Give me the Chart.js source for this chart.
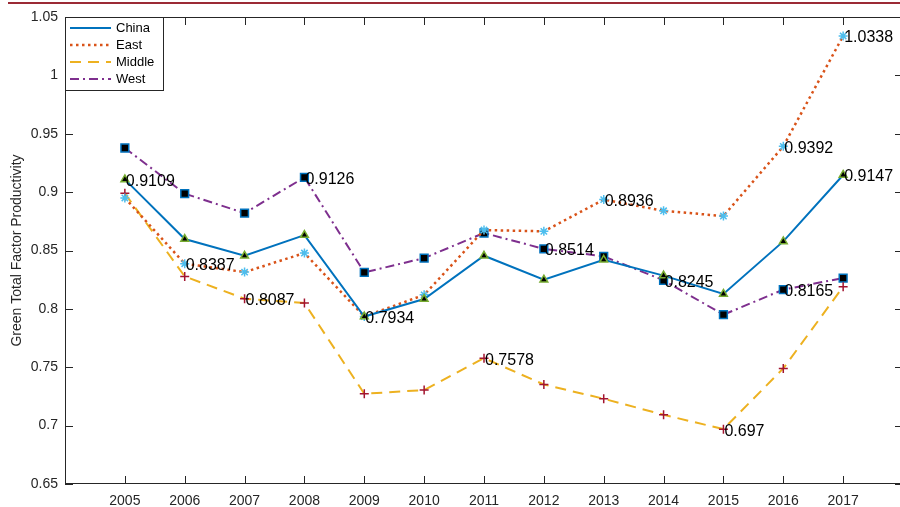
<!DOCTYPE html>
<html>
<head>
<meta charset="utf-8">
<script src="https://cdn.jsdelivr.net/npm/chart.js@4/dist/chart.umd.min.js"></script>
<style>
  html, body { margin: 0; padding: 0; background: #fff; overflow: hidden; }
  #wrap { position: relative; width: 900px; height: 507px; overflow: hidden; }
  #inner { position: absolute; left: 0; top: 0; width: 910px; height: 507px; }
  #topline { position: absolute; left: 8px; right: 0; top: 2px; height: 2px; background: #9b2a35; }
</style>
</head>
<body>
<div id="wrap">
  <div id="inner"><canvas id="tfp" width="910" height="507" style="width:910px;height:507px"></canvas></div>
  <div id="topline"></div>
</div>
<script>
// ── data ────────────────────────────────────────────────────────────────
const YEARS  = [2005, 2006, 2007, 2008, 2009, 2010, 2011, 2012, 2013, 2014, 2015, 2016, 2017];
const CHINA  = [0.9109, 0.8598, 0.8455, 0.8632, 0.7934, 0.8084, 0.8455, 0.8250, 0.8420, 0.8285, 0.8128, 0.8578, 0.9147];
const EAST   = [0.8950, 0.8387, 0.8315, 0.8478, 0.7934, 0.8120, 0.8675, 0.8664, 0.8936, 0.8840, 0.8795, 0.9392, 1.0338];
const MIDDLE = [0.8990, 0.8278, 0.8087, 0.8050, 0.7273, 0.7305, 0.7578, 0.7352, 0.7230, 0.7093, 0.6970, 0.7490, 0.8190];
const WEST   = [0.9378, 0.8987, 0.8820, 0.9126, 0.8312, 0.8435, 0.8650, 0.8514, 0.8450, 0.8245, 0.7950, 0.8165, 0.8264];
const Y_TICKS = [0.65, 0.7, 0.75, 0.8, 0.85, 0.9, 0.95, 1, 1.05];
// annotated points: [dataset index, year index]
const NOTES = [[0, 0], [1, 1], [2, 2], [3, 3], [0, 4], [2, 6], [3, 7], [1, 8], [3, 9], [2, 10], [3, 11], [1, 11], [0, 12], [1, 12]];

const INK = '#262626';
const FONT = '"Liberation Sans", Arial, Helvetica, sans-serif';

const pts = vals => vals.map((v, i) => ({ x: YEARS[i], y: v }));

const series = [
  { label: 'China',  data: pts(CHINA),  borderColor: '#0072BD', borderWidth: 2,   borderDash: [],
    pointStyle: 'triangle', pointRadius: 4.5, pointBackgroundColor: '#000', pointBorderColor: '#77AC30', pointBorderWidth: 1.5 },
  { label: 'East',   data: pts(EAST),   borderColor: '#D95319', borderWidth: 2.5, borderDash: [2.5, 3.5],
    pointStyle: 'star', pointRadius: 4.5, pointBackgroundColor: '#4DBEEE', pointBorderColor: '#4DBEEE', pointBorderWidth: 1.5 },
  { label: 'Middle', data: pts(MIDDLE), borderColor: '#EDB120', borderWidth: 2,   borderDash: [11, 7],
    pointStyle: 'cross', pointRadius: 4.5, pointBackgroundColor: '#A2142F', pointBorderColor: '#A2142F', pointBorderWidth: 1.5 },
  { label: 'West',   data: pts(WEST),   borderColor: '#7E2F8E', borderWidth: 2,   borderDash: [9, 4, 2, 4],
    pointStyle: 'rect', pointRadius: 5.5, pointBackgroundColor: '#000', pointBorderColor: '#0072BD', pointBorderWidth: 1.5 },
];

// ── frame, inward ticks (MATLAB look) ───────────────────────────────────
const framePlugin = {
  id: 'frame',
  afterDraw(chart) {
    const { ctx, chartArea: a, scales: { x, y } } = chart;
    const L = 8;
    ctx.save();
    ctx.strokeStyle = INK; ctx.lineWidth = 1;
    ctx.strokeRect(a.left + 0.5, a.top + 0.5, a.right - a.left - 1, a.bottom - a.top - 1);
    ctx.beginPath();
    YEARS.forEach(v => {
      const px = Math.round(x.getPixelForValue(v)) + 0.5;
      ctx.moveTo(px, a.bottom); ctx.lineTo(px, a.bottom - L);
      ctx.moveTo(px, a.top);    ctx.lineTo(px, a.top + L);
    });
    Y_TICKS.forEach(v => {
      const py = Math.round(y.getPixelForValue(v)) + 0.5;
      ctx.moveTo(a.left, py);  ctx.lineTo(a.left + L, py);
      ctx.moveTo(a.right, py); ctx.lineTo(a.right - L, py);
    });
    ctx.stroke();

    // legend box
    const bx = a.left, by = a.top, bw = 98, bh = 73;
    ctx.fillStyle = '#fff';
    ctx.fillRect(bx, by, bw, bh);
    ctx.strokeRect(bx + 0.5, by + 0.5, bw, bh);
    ctx.font = '13px ' + FONT;
    ctx.textBaseline = 'middle';
    series.forEach((s, i) => {
      const ly = by + 11 + i * 17;
      ctx.beginPath();
      ctx.strokeStyle = s.borderColor; ctx.lineWidth = s.borderWidth;
      ctx.setLineDash(s.borderDash);
      ctx.moveTo(bx + 5, ly); ctx.lineTo(bx + 46, ly);
      ctx.stroke();
      ctx.setLineDash([]);
      ctx.fillStyle = '#000';
      ctx.fillText(s.label, bx + 51, ly);
    });
    ctx.restore();
  }
};

// ── value labels beside selected points ─────────────────────────────────
const notePlugin = {
  id: 'notes',
  afterDatasetsDraw(chart) {
    const { ctx } = chart;
    ctx.save();
    ctx.font = '16px ' + FONT;
    ctx.fillStyle = '#000';
    ctx.textBaseline = 'middle';
    ctx.textAlign = 'left';
    NOTES.forEach(([d, i]) => {
      const el = chart.getDatasetMeta(d).data[i];
      const v = series[d].data[i].y;
      ctx.fillText(String(v), el.x + 1, el.y + 2);
    });
    ctx.restore();
  }
};

new Chart(document.getElementById('tfp'), {
  type: 'line',
  data: { datasets: series.map(s => ({ ...s, fill: false, tension: 0, borderCapStyle: 'butt' })) },
  options: {
    responsive: false, animation: false,
    layout: { padding: { top: 17, right: 1, left: 0, bottom: 0 } },
    plugins: { legend: { display: false }, tooltip: { enabled: false } },
    scales: {
      x: {
        type: 'linear', min: 2004, max: 2018,
        afterBuildTicks: s => { s.ticks = YEARS.map(v => ({ value: v })); },
        afterFit: s => { s.height = 23; },
        grid: { display: false, drawTicks: false }, border: { display: false },
        ticks: { color: INK, font: { family: FONT, size: 14 }, padding: 9, maxRotation: 0, callback: v => String(v) }
      },
      y: {
        min: 0.65, max: 1.05,
        afterBuildTicks: s => { s.ticks = Y_TICKS.map(v => ({ value: v })); },
        afterFit: s => { s.width = 65; },
        grid: { display: false, drawTicks: false }, border: { display: false },
        title: { display: true, text: 'Green Total Factor Productivity', color: INK, font: { family: FONT, size: 14 }, padding: { top: 9, bottom: 0 } },
        ticks: { color: INK, font: { family: FONT, size: 14 }, padding: 7, callback: v => String(parseFloat(v.toFixed(2))) }
      }
    }
  },
  plugins: [framePlugin, notePlugin]
});
</script>
</body>
</html>
